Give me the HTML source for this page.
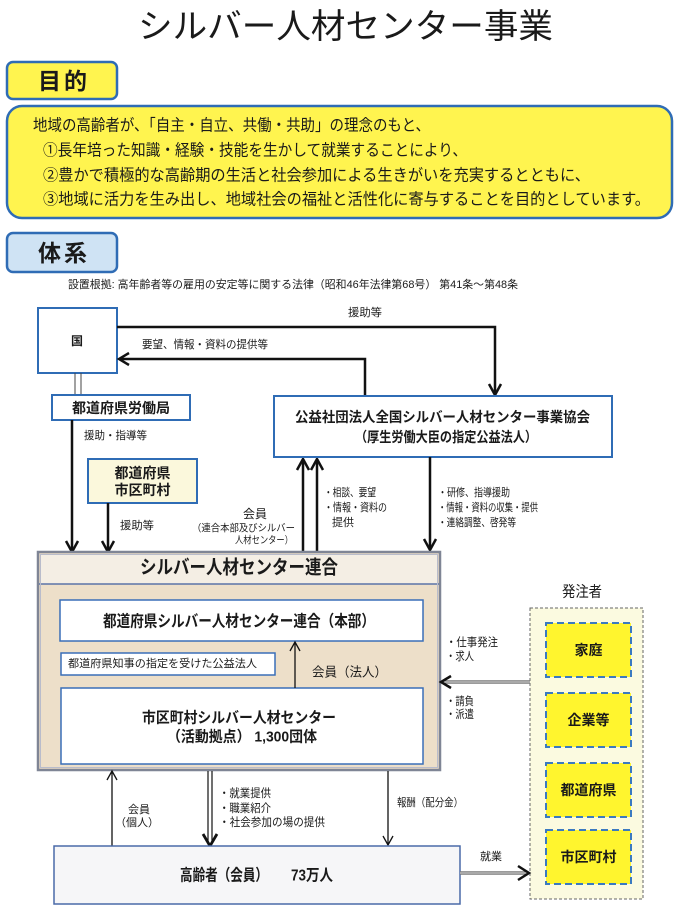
<!DOCTYPE html>
<html lang="ja">
<head>
<meta charset="utf-8">
<style>
html,body{margin:0;padding:0;background:#fff;}
svg{display:block;}
text{font-family:"Liberation Sans","Noto Sans CJK JP",sans-serif;fill:#1a1a1a;}
.b{font-weight:bold;}
</style>
</head>
<body>
<svg width="680" height="909" viewBox="0 0 680 909" xmlns="http://www.w3.org/2000/svg">
<rect width="680" height="909" fill="#fff"/>

<!-- Title -->
<text x="138" y="27" font-size="34" dominant-baseline="central" textLength="415" lengthAdjust="spacingAndGlyphs" fill="#222">シルバー人材センター事業</text>

<!-- 目的 -->
<rect x="7" y="62" width="110" height="37" rx="6" fill="#fff44f" stroke="#2f6cb5" stroke-width="2.5"/>
<text x="38" y="81" font-size="23" class="b" dominant-baseline="central" textLength="49" lengthAdjust="spacing">目 的</text>

<rect x="7" y="106" width="665" height="112" rx="15" fill="#fff44f" stroke="#2f6cb5" stroke-width="2.5"/>
<text x="33" y="126" font-size="16" dominant-baseline="central" textLength="397" lengthAdjust="spacingAndGlyphs">地域の高齢者が、「自主・自立、共働・共助」の理念のもと、</text>
<text x="43" y="151" font-size="16" dominant-baseline="central" textLength="424" lengthAdjust="spacingAndGlyphs">①長年培った知識・経験・技能を生かして就業することにより、</text>
<text x="43" y="176" font-size="16" dominant-baseline="central" textLength="547" lengthAdjust="spacingAndGlyphs">②豊かで積極的な高齢期の生活と社会参加による生きがいを充実するとともに、</text>
<text x="43" y="200" font-size="16" dominant-baseline="central" textLength="607" lengthAdjust="spacingAndGlyphs">③地域に活力を生み出し、地域社会の福祉と活性化に寄与することを目的としています。</text>

<!-- 体系 -->
<rect x="7" y="233" width="110" height="39" rx="6" fill="#cfe3f4" stroke="#2f6cb5" stroke-width="2.5"/>
<text x="38" y="253" font-size="23" class="b" dominant-baseline="central" textLength="49" lengthAdjust="spacing">体 系</text>

<text x="68" y="285" font-size="11" dominant-baseline="central" textLength="450" lengthAdjust="spacingAndGlyphs">設置根拠: 高年齢者等の雇用の安定等に関する法律（昭和46年法律第68号） 第41条～第48条</text>

<!-- 国 -->
<rect x="38" y="308" width="79" height="65" fill="#fff" stroke="#2f6cb5" stroke-width="2"/>
<text x="77" y="341" font-size="12" class="b" text-anchor="middle" dominant-baseline="central">国</text>

<!-- 援助等 arrow -->
<path d="M117,327 H495 V394" fill="none" stroke="#111" stroke-width="2.5"/>
<polyline points="489,384 495,395 501,384" fill="none" stroke="#111" stroke-width="2.5"/>
<text x="348" y="313" font-size="11" dominant-baseline="central" textLength="34" lengthAdjust="spacingAndGlyphs">援助等</text>

<!-- 要望 arrow -->
<path d="M365,396 V359 H119" fill="none" stroke="#111" stroke-width="2.5"/>
<polyline points="129,353 119,359 129,365" fill="none" stroke="#111" stroke-width="2.5"/>
<text x="142" y="345" font-size="11" dominant-baseline="central" textLength="126" lengthAdjust="spacingAndGlyphs">要望、情報・資料の提供等</text>

<!-- double line 国 to 労働局 -->
<line x1="75" y1="373" x2="75" y2="395" stroke="#444" stroke-width="1"/>
<line x1="81" y1="373" x2="81" y2="395" stroke="#444" stroke-width="1"/>

<!-- 労働局 -->
<rect x="52" y="395" width="138" height="25" fill="#fff" stroke="#2f6cb5" stroke-width="2"/>
<text x="121" y="408" font-size="14" class="b" text-anchor="middle" dominant-baseline="central" textLength="98" lengthAdjust="spacingAndGlyphs">都道府県労働局</text>

<line x1="72" y1="420" x2="72" y2="551" stroke="#111" stroke-width="2.5"/>
<polyline points="66,541 72,552 78,541" fill="none" stroke="#111" stroke-width="2.5"/>
<text x="84" y="436" font-size="11" dominant-baseline="central" textLength="63" lengthAdjust="spacingAndGlyphs">援助・指導等</text>

<!-- 都道府県 市区町村 -->
<rect x="88" y="459" width="109" height="44" fill="#fbf8dc" stroke="#2f6cb5" stroke-width="2"/>
<text x="142.5" y="473" font-size="14" class="b" text-anchor="middle" dominant-baseline="central">都道府県</text>
<text x="142.5" y="490" font-size="14" class="b" text-anchor="middle" dominant-baseline="central">市区町村</text>

<line x1="108" y1="503" x2="108" y2="551" stroke="#111" stroke-width="2.5"/>
<polyline points="102,541 108,552 114,541" fill="none" stroke="#111" stroke-width="2.5"/>
<text x="120" y="526" font-size="11" dominant-baseline="central" textLength="34" lengthAdjust="spacingAndGlyphs">援助等</text>

<!-- 会員 labels -->
<text x="255" y="514" font-size="12" text-anchor="middle" dominant-baseline="central">会員</text>
<text x="192" y="529" font-size="10" dominant-baseline="central" textLength="103" lengthAdjust="spacingAndGlyphs">（連合本部及びシルバー</text>
<text x="235" y="541" font-size="10" dominant-baseline="central" textLength="58" lengthAdjust="spacingAndGlyphs">人材センター）</text>

<!-- up arrows to 協会 -->
<line x1="303" y1="552" x2="303" y2="460" stroke="#111" stroke-width="2.5"/>
<polyline points="297,470 303,459 309,470" fill="none" stroke="#111" stroke-width="2.5"/>
<line x1="317" y1="552" x2="317" y2="460" stroke="#111" stroke-width="2.5"/>
<polyline points="311,470 317,459 323,470" fill="none" stroke="#111" stroke-width="2.5"/>
<text x="324" y="493" font-size="11" dominant-baseline="central" textLength="52" lengthAdjust="spacingAndGlyphs">・相談、要望</text>
<text x="324" y="508" font-size="11" dominant-baseline="central" textLength="63" lengthAdjust="spacingAndGlyphs">・情報・資料の</text>
<text x="332" y="523" font-size="11" dominant-baseline="central">提供</text>

<!-- 協会 -->
<rect x="274" y="396" width="338" height="61" fill="#fff" stroke="#2f6cb5" stroke-width="2"/>
<text x="295" y="417" font-size="14" class="b" dominant-baseline="central" textLength="295" lengthAdjust="spacingAndGlyphs">公益社団法人全国シルバー人材センター事業協会</text>
<text x="355" y="437" font-size="14" class="b" dominant-baseline="central" textLength="182" lengthAdjust="spacingAndGlyphs">（厚生労働大臣の指定公益法人）</text>

<line x1="430" y1="457" x2="430" y2="549" stroke="#111" stroke-width="2.5"/>
<polyline points="424,539 430,550 436,539" fill="none" stroke="#111" stroke-width="2.5"/>
<text x="438" y="493" font-size="11" dominant-baseline="central" textLength="72" lengthAdjust="spacingAndGlyphs">・研修、指導援助</text>
<text x="438" y="508" font-size="11" dominant-baseline="central" textLength="100" lengthAdjust="spacingAndGlyphs">・情報・資料の収集・提供</text>
<text x="438" y="523" font-size="11" dominant-baseline="central" textLength="78" lengthAdjust="spacingAndGlyphs">・連絡調整、啓発等</text>

<!-- 連合 -->
<rect x="38" y="552" width="402" height="218" fill="#eddfc9" stroke="#7f8595" stroke-width="2.5"/>
<rect x="40" y="554" width="398" height="30" fill="#f4eee4"/>
<line x1="39" y1="584" x2="439" y2="584" stroke="#5b74a8" stroke-width="1.5"/>
<rect x="40.5" y="554.5" width="397" height="213" fill="none" stroke="#b9bccb" stroke-width="1"/>
<text x="239" y="568" font-size="19" class="b" text-anchor="middle" dominant-baseline="central" textLength="198" lengthAdjust="spacingAndGlyphs">シルバー人材センター連合</text>

<rect x="60" y="600" width="363" height="41" fill="#fff" stroke="#3a6fb8" stroke-width="1.5"/>
<text x="239" y="622" font-size="16" class="b" text-anchor="middle" dominant-baseline="central" textLength="272" lengthAdjust="spacingAndGlyphs">都道府県シルバー人材センター連合（本部）</text>

<rect x="61" y="653" width="214" height="22" fill="#fff" stroke="#3a6fb8" stroke-width="1.5"/>
<text x="68" y="664" font-size="11" dominant-baseline="central" textLength="189" lengthAdjust="spacingAndGlyphs">都道府県知事の指定を受けた公益法人</text>

<rect x="61" y="688" width="362" height="76" fill="#fff" stroke="#3a6fb8" stroke-width="1.5"/>
<text x="239" y="718" font-size="15" class="b" text-anchor="middle" dominant-baseline="central" textLength="194" lengthAdjust="spacingAndGlyphs">市区町村シルバー人材センター</text>
<text x="167" y="737" font-size="15" class="b" dominant-baseline="central" textLength="150" lengthAdjust="spacingAndGlyphs">（活動拠点） 1,300団体</text>

<line x1="295" y1="688" x2="295" y2="643" stroke="#111" stroke-width="1.3"/>
<polyline points="290,651 295,642 300,651" fill="none" stroke="#111" stroke-width="1.3"/>
<text x="312" y="672" font-size="13" dominant-baseline="central" textLength="75" lengthAdjust="spacingAndGlyphs">会員（法人）</text>

<!-- 発注者 -->
<text x="582" y="592" font-size="15" text-anchor="middle" dominant-baseline="central" textLength="40" lengthAdjust="spacingAndGlyphs">発注者</text>
<rect x="530" y="608" width="113" height="291" fill="#fbfae0" stroke="#666" stroke-width="1" stroke-dasharray="3,2"/>
<g fill="#fff52e" stroke="#3b7ac0" stroke-width="2" stroke-dasharray="7,4">
<rect x="546" y="623" width="85" height="54"/>
<rect x="546" y="693" width="85" height="54"/>
<rect x="546" y="763" width="85" height="54"/>
<rect x="546" y="830" width="85" height="54"/>
</g>
<text x="588.5" y="650" font-size="14" class="b" text-anchor="middle" dominant-baseline="central">家庭</text>
<text x="588.5" y="720" font-size="14" class="b" text-anchor="middle" dominant-baseline="central">企業等</text>
<text x="588.5" y="790" font-size="14" class="b" text-anchor="middle" dominant-baseline="central">都道府県</text>
<text x="588.5" y="857" font-size="14" class="b" text-anchor="middle" dominant-baseline="central">市区町村</text>

<!-- 発注者 -> 連合 -->
<line x1="530" y1="682" x2="443" y2="682" stroke="#7a7a7a" stroke-width="3.5"/>
<line x1="530" y1="682" x2="443" y2="682" stroke="#d8d8d8" stroke-width="1"/>
<polyline points="451,676 441,682 451,688" fill="none" stroke="#111" stroke-width="2.5"/>
<text x="446" y="643" font-size="11.5" dominant-baseline="central" textLength="52" lengthAdjust="spacingAndGlyphs">・仕事発注</text>
<text x="446" y="657" font-size="11.5" dominant-baseline="central" textLength="28" lengthAdjust="spacingAndGlyphs">・求人</text>
<text x="446" y="702" font-size="11.5" dominant-baseline="central" textLength="28" lengthAdjust="spacingAndGlyphs">・請負</text>
<text x="446" y="715" font-size="11.5" dominant-baseline="central" textLength="28" lengthAdjust="spacingAndGlyphs">・派遣</text>

<!-- bottom arrows -->
<line x1="112" y1="846" x2="112" y2="772" stroke="#111" stroke-width="1.3"/>
<polyline points="107,780 112,771 117,780" fill="none" stroke="#111" stroke-width="1.3"/>
<text x="139" y="810" font-size="11" text-anchor="middle" dominant-baseline="central">会員</text>
<text x="137" y="823" font-size="11" text-anchor="middle" dominant-baseline="central">（個人）</text>

<line x1="208" y1="771" x2="208" y2="843" stroke="#111" stroke-width="1.2"/>
<line x1="212" y1="771" x2="212" y2="843" stroke="#111" stroke-width="1.2"/>
<polyline points="203,834 210,846 217,834" fill="none" stroke="#111" stroke-width="2.8"/>
<text x="219" y="794" font-size="11.5" dominant-baseline="central" textLength="52" lengthAdjust="spacingAndGlyphs">・就業提供</text>
<text x="219" y="809" font-size="11.5" dominant-baseline="central" textLength="52" lengthAdjust="spacingAndGlyphs">・職業紹介</text>
<text x="219" y="823" font-size="11.5" dominant-baseline="central" textLength="106" lengthAdjust="spacingAndGlyphs">・社会参加の場の提供</text>

<line x1="388" y1="771" x2="388" y2="845" stroke="#111" stroke-width="1.3"/>
<polyline points="383,836 388,845 393,836" fill="none" stroke="#111" stroke-width="1.3"/>
<text x="397" y="803" font-size="11" dominant-baseline="central" textLength="66" lengthAdjust="spacingAndGlyphs">報酬（配分金）</text>

<!-- 高齢者 -->
<rect x="54" y="846" width="406" height="58" fill="#f6f6f8" stroke="#4a6aa8" stroke-width="1.5"/>
<text x="180" y="876" font-size="16" class="b" dominant-baseline="central" textLength="88" lengthAdjust="spacingAndGlyphs">高齢者（会員）</text>
<text x="291" y="876" font-size="16" class="b" dominant-baseline="central" textLength="42" lengthAdjust="spacingAndGlyphs">73万人</text>

<!-- 高齢者 -> 発注者 -->
<line x1="460" y1="873" x2="527" y2="873" stroke="#7a7a7a" stroke-width="3.5"/>
<line x1="460" y1="873" x2="527" y2="873" stroke="#d8d8d8" stroke-width="1"/>
<polyline points="518,866 529,873 518,880" fill="none" stroke="#111" stroke-width="2.5"/>
<text x="491" y="857" font-size="11" text-anchor="middle" dominant-baseline="central">就業</text>
</svg>
</body>
</html>
